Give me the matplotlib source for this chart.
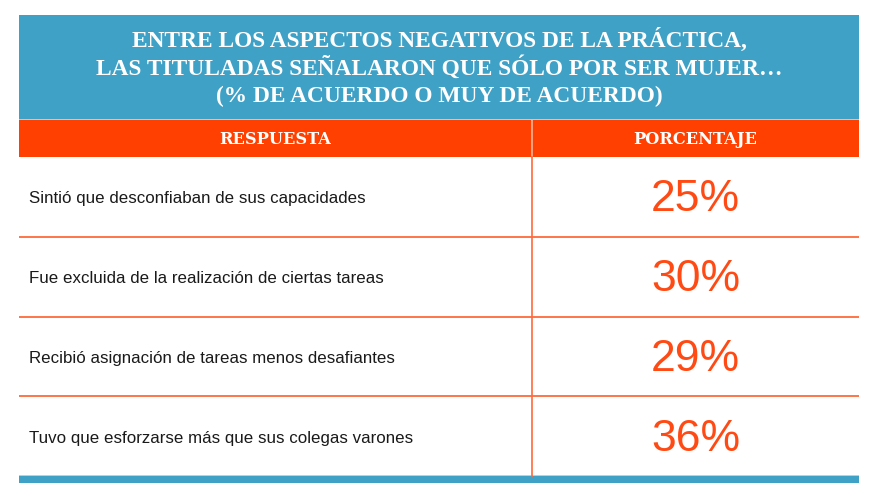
import matplotlib
matplotlib.use("Agg")
import matplotlib.pyplot as plt
from matplotlib.patches import Rectangle

title_lines = [
    "ENTRE LOS ASPECTOS NEGATIVOS DE LA PRÁCTICA,",
    "LAS TITULADAS SEÑALARON QUE SÓLO POR SER MUJER…",
    "(% DE ACUERDO O MUY DE ACUERDO)",
]
col_headers = ["RESPUESTA", "PORCENTAJE"]
respuestas = [
    "Sintió que desconfiaban de sus capacidades",
    "Fue excluida de la realización de ciertas tareas",
    "Recibió asignación de tareas menos desafiantes",
    "Tuvo que esforzarse más que sus colegas varones",
]
porcentajes = [25, 30, 29, 36]

BLUE = "#40a1c7"
ORANGE = "#ff4000"
LINE = "#ff6a3a"
PCT = "#ff4a14"

W, H = 877, 504
fig = plt.figure(figsize=(W / 100, H / 100), dpi=100)
ax = fig.add_axes([0, 0, 1, 1])
ax.set_xlim(0, W)
ax.set_ylim(H, 0)
ax.axis("off")

L, R = 19, 859
DIV = 532
BT, BB = 15, 119
HT, HB = 120, 157
BODY_B = 476

renderer = fig.canvas.get_renderer()

def fit(t, target_w):
    bb = t.get_window_extent(renderer=renderer)
    t.set_fontsize(t.get_fontsize() * target_w / bb.width)

# blue title box
ax.add_patch(Rectangle((L, BT), R - L, BB - BT, color=BLUE, lw=0))
ax.add_patch(Rectangle((L, BB), R - L, 1.2, color="#c9c9c9", lw=0))
# orange header
ax.add_patch(Rectangle((L, HT), R - L, HB - HT, color=ORANGE, lw=0))
ax.plot([DIV, DIV], [HT, HB], color="#ffb59a", lw=1.2)

# title
title_y = [40, 68, 96]
tw = []
for s, y in zip(title_lines, title_y):
    t = ax.text((L + R) / 2, y, s, ha="center", va="center", color="white",
                fontsize=14, fontweight="bold", family="Liberation Serif")
    tw.append(t)
fit(tw[1], 689)
for t in tw:
    t.set_fontsize(tw[1].get_fontsize())

# column headers
h1 = ax.text((L + DIV) / 2, 139, col_headers[0], ha="center", va="center",
             color="white", fontsize=10, fontweight="bold", family="DejaVu Serif")
h2 = ax.text((DIV + R) / 2, 139, col_headers[1], ha="center", va="center",
             color="white", fontsize=10, fontweight="bold", family="DejaVu Serif")
fit(h2, 124)
h1.set_fontsize(h2.get_fontsize())

# body
n = len(respuestas)
rh = (BODY_B - HB) / n
labels = []
for i, (r, p) in enumerate(zip(respuestas, porcentajes)):
    top = HB + i * rh
    cy = top + rh / 2 + 2
    lt = ax.text(29, cy, r, ha="left", va="center", color="#1a1a1a",
                 fontsize=12, family="Liberation Sans")
    labels.append(lt)
    ax.text((DIV + R) / 2, cy + 1, f"{p}%", ha="center", va="center", color=PCT,
            fontsize=32, family="Liberation Sans")
    if i > 0:
        ax.plot([L, R], [top, top], color=LINE, lw=1.3, solid_capstyle="butt")
fit(labels[0], 335)
for lt in labels:
    lt.set_fontsize(labels[0].get_fontsize())

ax.plot([DIV, DIV], [HB, BODY_B], color=LINE, lw=1.2)

# bottom blue bar
ax.add_patch(Rectangle((L, BODY_B), R - L, 7, color=BLUE, lw=0))
ax.add_patch(Rectangle((L, BODY_B - 0.6), R - L, 0.6, color="#a9d6e8", lw=0))

fig.savefig("out.png", dpi=100)
